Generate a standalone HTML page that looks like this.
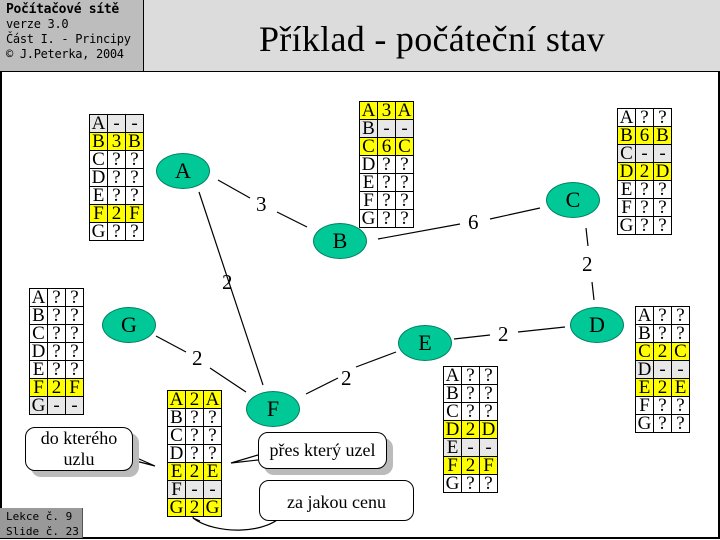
<!DOCTYPE html>
<html><head><meta charset="utf-8"><style>
body{margin:0;width:720px;height:540px;position:relative;overflow:hidden;background:#fff;font-family:"Liberation Serif",serif}
.a{position:absolute}
table.t{position:absolute;border-collapse:collapse;font-size:19px;line-height:16px}
table.t td{border:1px solid #000;width:17px;height:17px;padding:0;text-align:center;background:#fff}
table.t tr.y td{background:#ff0}
table.t tr.g td{background:#e8e8e8}
.n{position:absolute;width:52px;height:34px;border-radius:50%;background:#00c896;border:1px solid #008060;text-align:center;line-height:34px;font-size:22px}
.l{position:absolute;font-size:21px}
.c{position:absolute;background:#fff;border:1px solid #000;border-radius:10px;box-shadow:6px 6px 0 #bbb;text-align:center;font-size:18px}
.h{font-family:"DejaVu Sans Mono","Liberation Mono",monospace;font-size:12px;line-height:15px}
</style></head><body>
<div class="a" style="left:0;top:0;width:143px;height:71px;background:#bdbdbd;border-right:1px solid #000"></div>
<div class="a" style="left:144px;top:0;width:576px;height:71px;background:#dcdcdc"></div>
<div class="a h" style="left:6px;top:2px;letter-spacing:-0.3px"><b style="font-size:13px">Počítačové sítě</b><br>verze 3.0<br>Část I. - Principy<br>© J.Peterka, 2004</div>
<div class="a" style="left:144px;top:18px;width:576px;text-align:center;font-size:36px;letter-spacing:0.3px">Příklad - počáteční stav</div>
<div class="a" style="left:0;top:71px;width:716px;height:465px;border:2px solid #000;border-top:1px solid #000"></div>
<div class="a h" style="left:0;top:508px;width:83px;height:30px;background:#999;border-right:1px solid #555;padding-left:6px;box-sizing:border-box;padding-top:1px;font-size:11px">Lekce č. 9<br>Slide č. 23</div>

<svg class="a" style="left:0;top:0" width="720" height="540" stroke="#000" stroke-width="1.2" fill="none">
<line x1="218" y1="180" x2="250" y2="198"/><line x1="277" y1="212" x2="307" y2="227"/>
<line x1="199" y1="192" x2="263" y2="385"/>
<line x1="378" y1="239" x2="460" y2="224"/><line x1="490" y1="219" x2="540" y2="208"/>
<line x1="586" y1="228" x2="588" y2="246"/><line x1="592" y1="282" x2="594" y2="300"/>
<line x1="454" y1="339" x2="490" y2="335"/><line x1="518" y1="332" x2="565" y2="327"/>
<line x1="306" y1="394" x2="338" y2="378"/><line x1="356" y1="367" x2="396" y2="352"/>
<line x1="156" y1="336" x2="186" y2="352"/><line x1="210" y1="368" x2="246" y2="392"/>
<path d="M132 460 L155 466 L130 455" fill="#fff"/>
<path d="M258 455 L231 463 L258 460" fill="#fff"/>
<path d="M285 512 C270 535 215 535 193 518" stroke-width="1.2"/>
<path d="M193 518 L195 510 M193 518 L200 521"/>
</svg>
<div class="l" style="left:256px;top:192px">3</div>
<div class="l" style="left:222px;top:270px">2</div>
<div class="l" style="left:468px;top:210px">6</div>
<div class="l" style="left:582px;top:252px">2</div>
<div class="l" style="left:498px;top:322px">2</div>
<div class="l" style="left:341px;top:366px">2</div>
<div class="l" style="left:192px;top:346px">2</div>

<div class="n" style="left:156px;top:153px">A</div>
<div class="n" style="left:313px;top:223px">B</div>
<div class="n" style="left:546px;top:182px">C</div>
<div class="n" style="left:570px;top:307px">D</div>
<div class="n" style="left:398px;top:325px">E</div>
<div class="n" style="left:246px;top:391px">F</div>
<div class="n" style="left:102px;top:307px">G</div>

<table class="t" style="left:89px;top:114px"><tr class="g"><td>A</td><td>-</td><td>-</td></tr><tr class="y"><td>B</td><td>3</td><td>B</td></tr><tr><td>C</td><td>?</td><td>?</td></tr><tr><td>D</td><td>?</td><td>?</td></tr><tr><td>E</td><td>?</td><td>?</td></tr><tr class="y"><td>F</td><td>2</td><td>F</td></tr><tr><td>G</td><td>?</td><td>?</td></tr></table>
<table class="t" style="left:359px;top:101px"><tr class="y"><td>A</td><td>3</td><td>A</td></tr><tr class="g"><td>B</td><td>-</td><td>-</td></tr><tr class="y"><td>C</td><td>6</td><td>C</td></tr><tr><td>D</td><td>?</td><td>?</td></tr><tr><td>E</td><td>?</td><td>?</td></tr><tr><td>F</td><td>?</td><td>?</td></tr><tr><td>G</td><td>?</td><td>?</td></tr></table>
<table class="t" style="left:617px;top:108px"><tr><td>A</td><td>?</td><td>?</td></tr><tr class="y"><td>B</td><td>6</td><td>B</td></tr><tr class="g"><td>C</td><td>-</td><td>-</td></tr><tr class="y"><td>D</td><td>2</td><td>D</td></tr><tr><td>E</td><td>?</td><td>?</td></tr><tr><td>F</td><td>?</td><td>?</td></tr><tr><td>G</td><td>?</td><td>?</td></tr></table>
<table class="t" style="left:29px;top:288px"><tr><td>A</td><td>?</td><td>?</td></tr><tr><td>B</td><td>?</td><td>?</td></tr><tr><td>C</td><td>?</td><td>?</td></tr><tr><td>D</td><td>?</td><td>?</td></tr><tr><td>E</td><td>?</td><td>?</td></tr><tr class="y"><td>F</td><td>2</td><td>F</td></tr><tr class="g"><td>G</td><td>-</td><td>-</td></tr></table>
<table class="t" style="left:443px;top:366px"><tr><td>A</td><td>?</td><td>?</td></tr><tr><td>B</td><td>?</td><td>?</td></tr><tr><td>C</td><td>?</td><td>?</td></tr><tr class="y"><td>D</td><td>2</td><td>D</td></tr><tr class="g"><td>E</td><td>-</td><td>-</td></tr><tr class="y"><td>F</td><td>2</td><td>F</td></tr><tr><td>G</td><td>?</td><td>?</td></tr></table>
<table class="t" style="left:635px;top:306px"><tr><td>A</td><td>?</td><td>?</td></tr><tr><td>B</td><td>?</td><td>?</td></tr><tr class="y"><td>C</td><td>2</td><td>C</td></tr><tr class="g"><td>D</td><td>-</td><td>-</td></tr><tr class="y"><td>E</td><td>2</td><td>E</td></tr><tr><td>F</td><td>?</td><td>?</td></tr><tr><td>G</td><td>?</td><td>?</td></tr></table>
<table class="t" style="left:167px;top:390px"><tr class="y"><td>A</td><td>2</td><td>A</td></tr><tr><td>B</td><td>?</td><td>?</td></tr><tr><td>C</td><td>?</td><td>?</td></tr><tr><td>D</td><td>?</td><td>?</td></tr><tr class="y"><td>E</td><td>2</td><td>E</td></tr><tr class="g"><td>F</td><td>-</td><td>-</td></tr><tr class="y"><td>G</td><td>2</td><td>G</td></tr></table>

<div class="c" style="left:25px;top:427px;width:106px;height:42px;line-height:21px">do kterého<br>uzlu</div>
<div class="c" style="left:258px;top:432px;width:127px;height:35px;line-height:35px">přes který uzel</div>
<div class="c" style="left:259px;top:480px;width:153px;height:39px;line-height:42px;box-shadow:none">za jakou cenu</div>
</body></html>
